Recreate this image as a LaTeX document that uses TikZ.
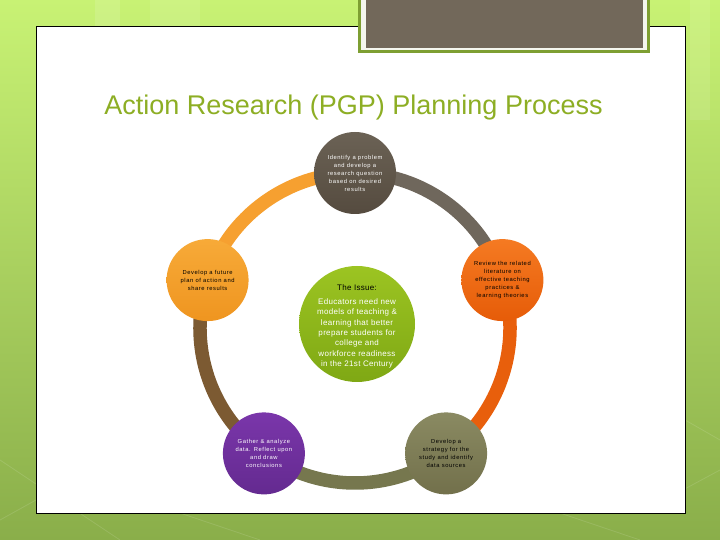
\documentclass[tikz,border=0pt]{standalone}
\usepackage{fontspec}
\setmainfont{Liberation Sans}
\newfontfamily\tinyf[LetterSpace=10]{Liberation Sans}
\newfontfamily\midf[LetterSpace=4]{Liberation Sans}
\usetikzlibrary{calc,backgrounds}
\definecolor{bgtop}{HTML}{C8F274}
\definecolor{bgbot}{HTML}{8AAE4A}
\definecolor{boxgreen}{HTML}{7E9F32}
\definecolor{boxwhite}{HTML}{F4F6EE}
\definecolor{boxbrown}{HTML}{72685A}
\definecolor{titlegreen}{HTML}{8DAE24}
\definecolor{topA}{HTML}{6B6255}
\definecolor{topB}{HTML}{554B3F}
\definecolor{leftA}{HTML}{F7AA38}
\definecolor{leftB}{HTML}{EF9520}
\definecolor{rightA}{HTML}{F57A22}
\definecolor{rightB}{HTML}{E65C08}
\definecolor{brA}{HTML}{8A8A62}
\definecolor{brB}{HTML}{72704B}
\definecolor{blA}{HTML}{7A36AA}
\definecolor{blB}{HTML}{642A90}
\definecolor{grA}{HTML}{9CC422}
\definecolor{grB}{HTML}{7FA814}
\definecolor{arcGray}{HTML}{6F675C}
\definecolor{arcOrange}{HTML}{F6A030}
\definecolor{arcBrown}{HTML}{7C5A32}
\definecolor{arcOlive}{HTML}{76774E}
\definecolor{arcRed}{HTML}{E85F0C}
\begin{document}
\begin{tikzpicture}[x=1pt,y=1pt,
  stage/.style={circle, minimum size=82pt, inner sep=0pt, align=center,
    font=\tinyf\fontsize{5.8}{8}\selectfont},
  ringband/.style={line width=13.5pt},
]
\useasboundingbox (0,0) rectangle (720,540);
\coordinate (C) at (355,212);

% title
\node[font=\fontsize{27}{32}\selectfont, text=titlegreen, anchor=base] (title) at (353.5,425)
  {Action Research (PGP) Planning Process};

% stage circles
\node[stage, top color=topA, bottom color=topB, text=white] (n1) at ($(C)+(90:155pt)$)
  {Identify a problem\\and develop a\\research question\\based on desired\\results};
\node[stage, top color=rightA, bottom color=rightB, text=black] (n2) at ($(C)+(18:155pt)$)
  {Review the related\\literature on\\effective teaching\\practices \&\\learning theories};
\node[stage, top color=brA, bottom color=brB, text=black] (n3) at ($(C)+(-54:155pt)$)
  {Develop a\\strategy for the\\study and identify\\data sources};
\node[stage, top color=blA, bottom color=blB, text=white] (n4) at ($(C)+(234:155pt)$)
  {Gather \& analyze\\data. Reflect upon\\and draw\\conclusions};
\node[stage, top color=leftA, bottom color=leftB, text=black] (n5) at ($(C)+(162:155pt)$)
  {Develop a future\\plan of action and\\share results};

% centre circle
\node[circle, minimum size=116pt, inner sep=0pt, top color=grA, bottom color=grB] (issue) at (357,216) {};
\node[font=\midf\fontsize{8}{10.3}\selectfont, align=center, text=white] (issuetext) at ($(issue)+(0,-2.5)$)
  {\textcolor{black}{The Issue:}\\[3.7pt]Educators need new\\models of teaching \&\\learning that better\\prepare students for\\college and\\workforce readiness\\in the 21st Century};

\begin{scope}[on background layer]
  % page background
  \shade[top color=bgtop, bottom color=bgbot] (0,0) rectangle (720,540);
  \fill[white, opacity=0.12] (95,470) rectangle (120,540);
  \fill[white, opacity=0.10] (150,470) rectangle (200,540);
  \fill[white, opacity=0.10] (690,420) rectangle (710,540);
  \begin{scope}[white, opacity=0.12, line width=0.8pt]
    \draw (0,80) -- (120,0);
    \draw (180,27) -- (260,0);
    \draw (560,27) -- (640,0);
    \draw (640,27) -- (720,70);
    \draw (0,20) -- (36,40);
    \draw (685,120) -- (720,100);
  \end{scope}
  % slide
  \fill[white] (36,27) rectangle (685,514);
  \draw[black, line width=0.9pt] (36,27) rectangle (685,514);
  % brown box
  \fill[boxgreen] (358,487) rectangle (650,541);
  \fill[boxwhite] (361,489.5) rectangle (647,541);
  \fill[boxbrown] (365.5,492) rectangle (643,541);
  % ring
  \draw[ringband, arcGray] (n2.center) arc[start angle=18, end angle=90, radius=155pt];
  \draw[ringband, arcOrange] (n1.center) arc[start angle=90, end angle=162, radius=155pt];
  \draw[ringband, arcBrown] (n5.center) arc[start angle=162, end angle=234, radius=155pt];
  \draw[ringband, arcOlive] (n4.center) arc[start angle=234, end angle=306, radius=155pt];
  \draw[ringband, arcRed] (n3.center) arc[start angle=-54, end angle=18, radius=155pt];
\end{scope}
\end{tikzpicture}
\end{document}
